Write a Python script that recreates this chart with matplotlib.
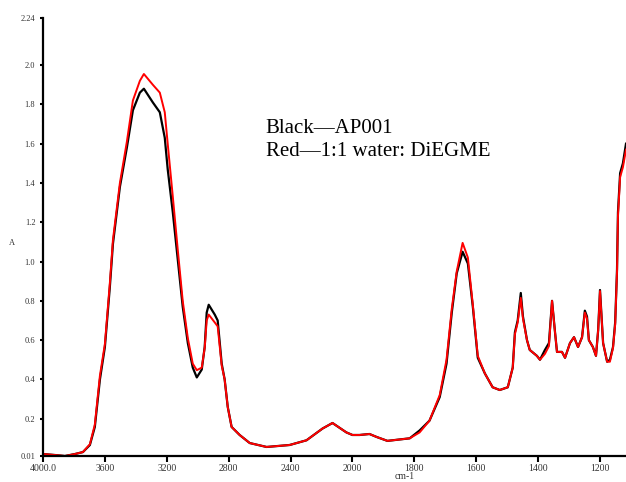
import matplotlib

matplotlib.use("Agg")
import matplotlib.pyplot as plt
import numpy as np

plt.rcParams["font.family"] = ["Liberation Serif", "DejaVu Serif"]

# wavenumber (cm-1) and absorbance
wn = [4000, 3923, 3858, 3794, 3742, 3697, 3665, 3632, 3600, 3568, 3548, 3503,
      3458, 3419, 3374, 3348, 3290, 3245, 3213, 3194, 3161, 3129, 3097, 3064,
      3032, 3006, 2974, 2955, 2942, 2929, 2890, 2871, 2845, 2826, 2806, 2781,
      2729, 2664, 2555, 2406, 2297, 2193, 2129, 2039, 2000, 1977, 1945, 1922,
      1887, 1815, 1783, 1751, 1718, 1696, 1679, 1663, 1644, 1627, 1611, 1595,
      1572, 1547, 1524, 1498, 1482, 1475, 1466, 1456, 1449, 1436, 1427, 1404,
      1394, 1378, 1365, 1355, 1346, 1339, 1323, 1313, 1297, 1284, 1271, 1258,
      1249, 1242, 1236, 1223, 1213, 1206, 1200, 1190, 1177, 1168, 1158, 1151,
      1145, 1142, 1135, 1126, 1116]

ap001 = [0.02, 0.015, 0.01, 0.02, 0.03, 0.066, 0.158, 0.40, 0.565, 0.87, 1.09, 1.38,
         1.58, 1.77, 1.86, 1.88, 1.81, 1.76, 1.63, 1.47, 1.25, 1.01, 0.77, 0.585,
         0.46, 0.41, 0.45, 0.565, 0.74, 0.78, 0.73, 0.70, 0.48, 0.40, 0.26, 0.158,
         0.117, 0.076, 0.056, 0.066, 0.09, 0.15, 0.178, 0.13, 0.117, 0.117, 0.122, 0.107,
         0.087, 0.10, 0.14, 0.19, 0.31, 0.48, 0.74, 0.94, 1.05, 0.99, 0.77, 0.51,
         0.43, 0.36, 0.346, 0.36, 0.46, 0.64, 0.70, 0.84, 0.72, 0.60, 0.55, 0.52,
         0.50, 0.55, 0.585, 0.80, 0.65, 0.54, 0.54, 0.51, 0.585, 0.615, 0.565, 0.615,
         0.75, 0.72, 0.60, 0.565, 0.52, 0.65, 0.855, 0.585, 0.49, 0.50, 0.565, 0.69,
         0.96, 1.25, 1.45, 1.50, 1.60]

water_diegme = [0.02, 0.015, 0.01, 0.02, 0.03, 0.07, 0.17, 0.42, 0.58, 0.89, 1.11, 1.40,
                1.61, 1.82, 1.92, 1.955, 1.90, 1.86, 1.76, 1.60, 1.33, 1.06, 0.80, 0.61,
                0.48, 0.447, 0.46, 0.56, 0.70, 0.73, 0.69, 0.67, 0.47, 0.40, 0.26, 0.158,
                0.117, 0.076, 0.056, 0.066, 0.09, 0.15, 0.178, 0.13, 0.117, 0.117, 0.122, 0.107,
                0.087, 0.10, 0.13, 0.19, 0.32, 0.50, 0.76, 0.95, 1.095, 1.02, 0.78, 0.52,
                0.43, 0.36, 0.346, 0.36, 0.46, 0.63, 0.69, 0.815, 0.71, 0.60, 0.55, 0.52,
                0.50, 0.53, 0.57, 0.80, 0.65, 0.54, 0.54, 0.51, 0.585, 0.615, 0.565, 0.615,
                0.74, 0.71, 0.60, 0.565, 0.52, 0.65, 0.85, 0.585, 0.49, 0.49, 0.56, 0.68,
                0.95, 1.23, 1.43, 1.48, 1.57]

y_ticks = [0.01, 0.2, 0.4, 0.6, 0.8, 1.0, 1.2, 1.4, 1.6, 1.8, 2.0, 2.24]
y_labels = ["0.01", "0.2", "0.4", "0.6", "0.8", "1.0", "1.2", "1.4", "1.6", "1.8", "2.0", "2.24"]
x_ticks = [4000, 3600, 3200, 2800, 2400, 2000, 1800, 1600, 1400, 1200]
x_labels = ["4000.0", "3600", "3200", "2800", "2400", "2000", "1800", "1600", "1400", "1200"]
legend_lines = ["Black\u2014AP001", "Red\u20141:1 water: DiEGME"]


# spectrometer-style axis: scale doubles below 2000 cm-1
def fwd(w):
    w = np.asarray(w, dtype=float)
    return np.where(w >= 2000, (w - 2000) / 400, (w - 2000) / 200)


def inv(u):
    u = np.asarray(u, dtype=float)
    return np.where(u >= 0, 2000 + 400 * u, 2000 + 200 * u)


fig = plt.figure(figsize=(6.26, 4.82), dpi=100)
ax = fig.add_axes([43 / 626, 26 / 482, 583 / 626, 438 / 482])
ax.set_xscale("function", functions=(fwd, inv))

ax.plot(wn, ap001, color="black", lw=1.6)
ax.plot(wn, water_diegme, color="#ff0000", lw=1.4)

ax.set_xlim(4000, 1116)
ax.set_ylim(0.01, 2.24)
ax.set_xticks(x_ticks)
ax.set_xticklabels(x_labels, fontsize=7, color="#333333")
ax.set_yticks(y_ticks)
ax.set_yticklabels(y_labels, fontsize=6, color="#333333")
ax.minorticks_off()
ax.tick_params(axis="x", direction="out", length=4, width=1.5, pad=2)
ax.tick_params(axis="y", direction="out", length=2.5, width=1.5, pad=3)

for side in ("top", "right"):
    ax.spines[side].set_visible(False)
for side in ("left", "bottom"):
    ax.spines[side].set_linewidth(1.6)

fig.text(12 / 626, 1 - 243 / 482, "A", fontsize=6, color="#333333", ha="center", va="center")
fig.text(405 / 626, 1 - 481 / 482, "cm-1", fontsize=7, color="#333333", ha="center", va="bottom")

for i, line in enumerate(legend_lines):
    ax.text(0.382, 0.737 - 0.052 * i, line, transform=ax.transAxes,
            fontsize=15, ha="left", va="baseline")

fig.savefig("out.png", dpi=100)
